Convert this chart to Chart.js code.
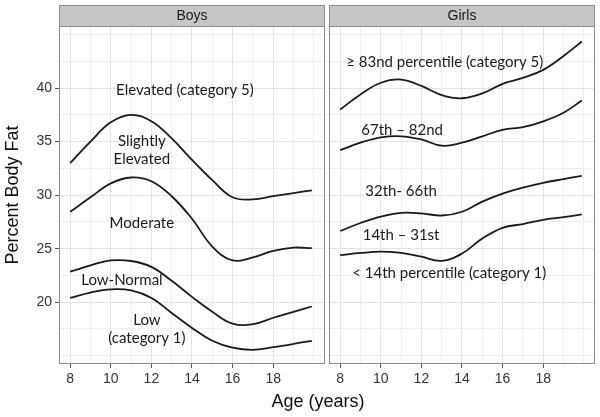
<!DOCTYPE html>
<html>
<head>
<meta charset="utf-8">
<script src="https://cdn.jsdelivr.net/npm/chart.js@4.4.0/dist/chart.umd.min.js"></script>
<style>
  body { margin: 0; background: #fff; }
  #wrap { position: relative; width: 600px; height: 417px; overflow: hidden; }
  canvas { position: absolute; top: 0; }
  #boys { left: 0; }
  #girls { left: 326px; }
  #xTitle { position: absolute; left: 218px; width: 200px; top: 391px; text-align: center;
            font-family: Arial, "Liberation Sans", sans-serif; font-size: 18px; color: #111; }
</style>
</head>
<body>
<div id="wrap">
  <canvas id="boys" width="326" height="417"></canvas>
  <canvas id="girls" width="274" height="417"></canvas>
  <div id="xTitle">Age (years)</div>
</div>
<script>
// ages at which the curves were read
const ages = [8, 9, 10, 11, 12, 13, 14, 15, 16, 17, 18, 19, 19.9];

// boys category boundaries (percent body fat)
const boysElevated  = [33.0, 35.0, 36.8, 37.5, 36.9, 35.3, 33.3, 31.4, 29.8, 29.6, 29.9, 30.2, 30.45];
const boysModerate  = [28.45, 29.8, 31.1, 31.65, 31.3, 29.9, 27.8, 25.2, 23.9, 24.2, 24.8, 25.1, 25.05];
const boysLowNormal = [22.85, 23.45, 23.9, 23.85, 23.3, 22.0, 20.5, 19.1, 18.0, 17.95, 18.55, 19.1, 19.6];
const boysLow       = [20.4, 20.9, 21.2, 21.1, 20.4, 19.0, 17.6, 16.4, 15.75, 15.55, 15.8, 16.1, 16.4];

// girls percentile boundaries
const girls83 = [38.0, 39.4, 40.5, 40.8, 40.2, 39.35, 39.05, 39.5, 40.4, 40.95, 41.7, 43.0, 44.35];
const girls67 = [34.2, 34.9, 35.4, 35.5, 35.2, 34.62, 34.9, 35.5, 36.1, 36.35, 36.9, 37.7, 38.85];
const girls32 = [26.65, 27.4, 28.0, 28.35, 28.3, 28.1, 28.45, 29.4, 30.15, 30.7, 31.15, 31.5, 31.8];
const girls14 = [24.4, 24.6, 24.72, 24.6, 24.25, 23.86, 24.55, 25.95, 26.95, 27.3, 27.7, 27.95, 28.2];

const xTickLabels = [8, 10, 12, 14, 16, 18];
const yTickLabels = [20, 25, 30, 35, 40];

const boysNotes = [
  { x: 13.65, y: 39.84, text: ["Elevated (category 5)"] },
  { x: 11.53, y: 35.07, text: ["Slightly", "Elevated"] },
  { x: 11.53, y: 27.4,  text: ["Moderate"] },
  { x: 10.55, y: 22.1,  text: ["Low-Normal"] },
  { x: 11.78, y: 18.36, text: ["Low", "(category 1)"] }
];
const girlsNotes = [
  { x: 13.15, y: 42.46, text: ["\u2265 83nd percentile (category 5)"] },
  { x: 11.05, y: 36.1,  text: ["67th \u2013 82nd"] },
  { x: 11.0,  y: 30.33, text: ["32th- 66th"] },
  { x: 11.0,  y: 26.29, text: ["14th \u2013 31st"] },
  { x: 13.37, y: 22.71, text: ["< 14th percentile (category 1)"] }
];

const axisFont = 'Arial, "Liberation Sans", sans-serif';

const panelDecor = {
  id: 'panelDecor',
  afterDatasetsDraw(chart, args, opts) {
    const { ctx, chartArea: a, scales } = chart;
    ctx.save();
    ctx.strokeStyle = '#8c8c8c';
    ctx.lineWidth = 1;
    ctx.strokeRect(a.left + 0.5, a.top + 0.5, a.right - a.left - 1, a.bottom - a.top - 1);
    // facet strip
    ctx.fillStyle = '#c6c6c6';
    ctx.fillRect(a.left, 5, a.right - a.left, a.top - 5);
    ctx.strokeRect(a.left + 0.5, 5.5, a.right - a.left - 1, a.top - 5);
    ctx.fillStyle = '#1a1a1a';
    ctx.textAlign = 'center';
    ctx.textBaseline = 'middle';
    ctx.font = '14px ' + axisFont;
    ctx.fillText(opts.title, (a.left + a.right) / 2, (5 + a.top) / 2 + 1);
    // category labels
    ctx.font = '15px Lato, "Open Sans", sans-serif';
    opts.notes.forEach(n => {
      const px = scales.x.getPixelForValue(n.x);
      const py = scales.y.getPixelForValue(n.y);
      n.text.forEach((t, i) => ctx.fillText(t, px, py + i * 18));
    });
    ctx.restore();
  }
};

function series(vals) {
  return {
    data: ages.map((a, i) => ({ x: a, y: vals[i] })),
    borderColor: '#1a1a1a',
    borderWidth: 1.8,
    pointRadius: 0,
    tension: 0.4,
    fill: false
  };
}

function makePanel(id, title, lines, notes, showY) {
  const isMajorX = v => xTickLabels.includes(v);
  const isMajorY = v => yTickLabels.includes(v);
  return new Chart(document.getElementById(id), {
    type: 'line',
    data: { datasets: lines.map(series) },
    options: {
      responsive: false,
      animation: false,
      layout: { padding: showY ? { top: 26, right: 1, left: 0, bottom: 0 } : { top: 26, right: 5, left: 3, bottom: 0 } },
      plugins: {
        legend: { display: false },
        tooltip: { enabled: false },
        panelDecor: { title: title, notes: notes }
      },
      scales: {
        x: {
          type: 'linear',
          min: 7.45,
          max: 20.55,
          afterBuildTicks: s => { s.ticks = [8, 9, 10, 11, 12, 13, 14, 15, 16, 17, 18, 19, 20].map(v => ({ value: v })); },
          afterFit: s => { s.height = 53; },
          border: { display: false },
          grid: {
            color: c => (c.tick && isMajorX(c.tick.value)) ? '#e4e4e4' : '#efefef',
            tickColor: c => (c.tick && isMajorX(c.tick.value)) ? '#555' : 'rgba(0,0,0,0)',
            tickLength: 4
          },
          ticks: {
            autoSkip: false,
            maxRotation: 0,
            padding: 3,
            color: '#333',
            font: { family: axisFont, size: 14 },
            callback: v => isMajorX(v) ? String(v) : ''
          }
        },
        y: {
          type: 'linear',
          min: 14.23,
          max: 45.8,
          afterBuildTicks: s => {
            const t = [];
            for (let v = 15; v <= 45; v += 2.5) t.push({ value: v });
            s.ticks = t;
          },
          afterFit: s => { s.width = showY ? 59 : 0; },
          border: { display: false },
          grid: {
            drawTicks: showY,
            color: c => (c.tick && isMajorY(c.tick.value)) ? '#e4e4e4' : '#efefef',
            tickColor: c => (c.tick && isMajorY(c.tick.value)) ? '#555' : 'rgba(0,0,0,0)',
            tickLength: 4
          },
          ticks: {
            display: showY,
            padding: 3,
            color: '#333',
            font: { family: axisFont, size: 14 },
            callback: v => isMajorY(v) ? String(v) : ''
          },
          title: {
            display: showY,
            text: 'Percent Body Fat',
            color: '#111',
            padding: { top: 2, bottom: 0 },
            font: { family: axisFont, size: 18 }
          }
        }
      }
    },
    plugins: [panelDecor]
  });
}

makePanel('boys', 'Boys', [boysElevated, boysModerate, boysLowNormal, boysLow], boysNotes, true);
makePanel('girls', 'Girls', [girls83, girls67, girls32, girls14], girlsNotes, false);
</script>
</body>
</html>
